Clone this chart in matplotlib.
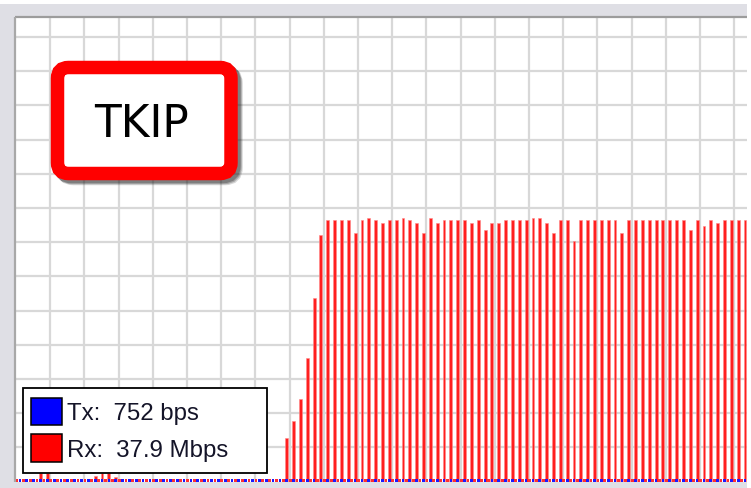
import matplotlib

matplotlib.use("Agg")
import matplotlib.pyplot as plt
import numpy as np
from matplotlib.patches import FancyBboxPatch, Rectangle

W, H, DPI = 751, 488, 100

# Rx throughput per sample (Mbps), one value per graph slot, left to right
rx_mbps = [
    0, 0, 0, 1.2, 1.2, 0, 0, 0, 0, 0,
    0, 0.8, 1.3, 1.2, 0.6, 0, 0, 0, 0, 0,
    0, 0, 0, 0, 0, 0, 0, 0, 0, 0,
    0, 0, 0, 0, 0, 0, 0, 0, 0, 6.4,
    8.8, 12.1, 18.1, 26.8, 36.1, 38.2, 38.2, 38.2, 38.2, 36.4,
    38.2, 38.5, 38.2, 37.8, 38.2, 38.2, 38.5, 38.2, 37.8, 36.4,
    38.5, 37.8, 38.2, 38.2, 38.2, 38.2, 37.8, 38.2, 36.8, 37.8,
    37.8, 38.2, 38.2, 38.2, 38.2, 38.5, 38.5, 37.8, 36.4, 38.2,
    38.2, 35.1, 38.2, 38.2, 38.2, 38.2, 38.2, 38.2, 36.4, 38.2,
    38.2, 38.2, 38.2, 38.2, 38.2, 38.2, 38.2, 38.2, 36.8, 38.2,
    37.4, 38.2, 37.8, 38.2, 38.2, 38.2, 38.2,
]
# Tx stays flat at a few hundred bps the whole time
tx_bps = [752] * len(rx_mbps)

legend_labels = ["Tx:  752 bps", "Rx:  37.9 Mbps"]
legend_colors = ["#0000ff", "#ff0000"]
title = "TKIP"

x = np.arange(len(rx_mbps))
rx = np.array(rx_mbps)
tx = np.array(tx_bps) / 1e6

fig = plt.figure(figsize=(W / DPI, H / DPI), dpi=DPI, facecolor="white")

# window chrome behind the graph
bg = fig.add_axes([0, 0, 1, 1], zorder=0)
bg.set_xlim(0, W)
bg.set_ylim(H, 0)
bg.axis("off")
bg.add_patch(Rectangle((0, 4), 747, H - 4, color="#dfdfe5", lw=0))

# graph area (pixel box 16..746.5 x 18..481.5)
left, right, top, bottom = 16, 746.5, 18, 481.5
ax = fig.add_axes(
    [left / W, (H - bottom) / H, (right - left) / W, (bottom - top) / H], zorder=1
)
ax.set_facecolor("white")
px_per_unit = 6.84
ax.set_xlim(-0.58, -0.58 + (right - left) / px_per_unit)
ax.set_ylim(0, (bottom - top) / px_per_unit)
ax.set_xticks(np.arange(-0.58 + 5, ax.get_xlim()[1], 5))
ax.set_yticks(np.arange(5, ax.get_ylim()[1], 5))
ax.tick_params(length=0, labelbottom=False, labelleft=False)
ax.grid(True, color="#d8d8d8", lw=1.6)
ax.set_axisbelow(True)
for s in ax.spines.values():
    s.set_visible(False)

min_h = 2.6 / px_per_unit  # smallest visible bar
ax.bar(x, rx, width=0.42, color="#ff1f1f", edgecolor="#ff8a8a", lw=0.4, zorder=2)
ax.bar(x - 0.5, np.full_like(rx, min_h), width=0.4, color="#ff3030", lw=0, zorder=2)
ax.bar(x, np.maximum(tx, min_h), width=0.4, color="#1a1aff", lw=0, zorder=3)

# decorations in pixel space
deco = fig.add_axes([0, 0, 1, 1], zorder=5)
deco.set_xlim(0, W)
deco.set_ylim(H, 0)
deco.axis("off")
deco.patch.set_alpha(0)

# frame edges (top and left shading)
deco.plot([left - 1, right], [top - 1, top - 1], color="#9c9c9c", lw=1.6,
          solid_capstyle="butt")
deco.plot([left - 1, left - 1], [top - 1, bottom], color="#a8a8a8", lw=1.6,
          solid_capstyle="butt")

# TKIP badge
bx, by, bw, bh = 57.5, 67.5, 173.5, 106
for off, a in [(5, 0.18), (4, 0.25), (3, 0.3)]:
    deco.add_patch(FancyBboxPatch((bx + off, by + off), bw, bh,
                                  boxstyle="round,pad=0,rounding_size=11",
                                  fc="none", ec="#202020", lw=9.7, alpha=a))
deco.add_patch(FancyBboxPatch((bx, by), bw, bh,
                              boxstyle="round,pad=0,rounding_size=11",
                              fc="white", ec="#ff0000", lw=9.7))
deco.text(141, 137, title, ha="center", va="baseline", fontsize=31.5,
          family="DejaVu Sans", color="black")

# legend box
deco.add_patch(Rectangle((22.7, 388.3), 244, 85, fc="white", ec="black", lw=1.3))
for i, (lab, col) in enumerate(zip(legend_labels, legend_colors)):
    y0 = 397.7 + i * 36.5
    deco.add_patch(Rectangle((30.7, y0), 31, 27.5, fc=col, ec="black", lw=1.1))
    deco.text(66.7, 420 + i * 36.5, lab, ha="left", va="baseline",
              fontsize=17.3, family="Liberation Sans", color="#141428")

fig.savefig("out.png", dpi=DPI, facecolor=fig.get_facecolor())
